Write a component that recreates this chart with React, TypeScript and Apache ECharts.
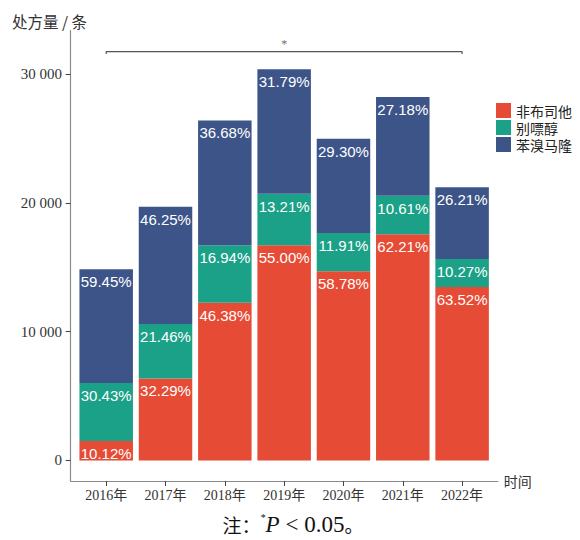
import React, { useEffect, useRef } from "react";
import * as echarts from "echarts";

// Prescription volume by year, split into three urate-lowering drugs
const years = ["2016年", "2017年", "2018年", "2019年", "2020年", "2021年", "2022年"];
const totals = [14830, 19700, 26390, 30360, 24970, 28220, 21200];
const febuxostatShare = [10.12, 32.29, 46.38, 55.0, 58.78, 62.21, 63.52];
const allopurinolShare = [30.43, 21.46, 16.94, 13.21, 11.91, 10.61, 10.27];
const benzbromaroneShare = [59.45, 46.25, 36.68, 31.79, 29.3, 27.18, 26.21];
const drugNames = ["非布司他", "别嘌醇", "苯溴马隆"];
const drugColors = ["#E64B35", "#1BA187", "#3C5488"];
const yTicks = [0, 10000, 20000, 30000];
// significance bracket spanning 2016–2022
const bracketLevel = 31730;
const bracketDrop = 170;

const SERIF = "'Liberation Serif', 'Noto Sans CJK SC', serif";
const CJK = "'Noto Sans CJK SC', sans-serif";

const Y_MIN = -1600;
const Y_MAX = 33360;
// discrete-axis padding of 0.6 category units on each side
const PAD = 0.6;
const PLOT_LEFT = 70.6;
const PLOT_WIDTH = 427.1;
const PLOT_TOP = 30.7;
const PLOT_HEIGHT = 450.3;

const fmtThousands = (v: number) =>
  v === 0 ? "0" : String(v).replace(/\B(?=(\d{3})+(?!\d))/g, " ");

export default function App() {
  const ref = useRef<HTMLDivElement>(null);

  useEffect(() => {
    if (!ref.current) return;
    const chart = echarts.init(ref.current, null, { renderer: "svg" });
    const shares = [febuxostatShare, allopurinolShare, benzbromaroneShare];
    const xIdx = years.map((_, i) => i);
    const unit = PLOT_WIDTH / (years.length - 1 + 2 * PAD);
    const bandLeft = PLOT_LEFT + (PAD - 0.5) * unit;
    const bandWidth = unit * years.length;

    const barSeries = shares.map((share, s) => ({
      name: drugNames[s],
      type: "bar",
      stack: "total",
      xAxisIndex: 0,
      yAxisIndex: 0,
      barWidth: 53.5,
      itemStyle: { color: drugColors[s] },
      label: {
        show: true,
        position: "insideTop",
        distance: 5,
        color: "#ffffff",
        fontSize: 15,
        fontFamily: "'Liberation Sans', Arial, sans-serif",
        formatter: (p: any) => `${share[p.dataIndex].toFixed(2)}%`,
      },
      data: share.map((pct, i) => (totals[i] * pct) / 100),
    }));

    chart.setOption({
      animation: false,
      backgroundColor: "#ffffff",
      grid: [
        // bars: one band per year
        { left: bandLeft, top: PLOT_TOP, width: bandWidth, height: PLOT_HEIGHT, outerBoundsMode: "none" },
        // visible axes and annotation, padded on both sides
        { left: PLOT_LEFT, top: PLOT_TOP, width: PLOT_WIDTH, height: PLOT_HEIGHT, outerBoundsMode: "none" },
      ],
      legend: {
        orient: "vertical",
        left: 496,
        top: 103,
        padding: 0,
        itemWidth: 15,
        itemHeight: 15,
        itemGap: 2,
        icon: "rect",
        selectedMode: false,
        data: drugNames,
        textStyle: { fontSize: 14, fontFamily: CJK, color: "#222", lineHeight: 15 },
      },
      xAxis: [
        {
          type: "category",
          gridIndex: 0,
          data: years,
          boundaryGap: true,
          show: false,
        },
        {
          type: "value",
          gridIndex: 1,
          min: -PAD,
          max: years.length - 1 + PAD,
          name: "时间",
          nameLocation: "end",
          nameGap: 6,
          nameTextStyle: { fontSize: 14, fontFamily: CJK, color: "#333", verticalAlign: "middle" },
          axisLine: { show: true, onZero: false, lineStyle: { color: "#8a8a8a", width: 1.2 } },
          axisTick: { show: true, customValues: xIdx, length: 5, lineStyle: { color: "#444" } },
          axisLabel: {
            customValues: xIdx,
            formatter: (v: number) => years[Math.round(v)],
            margin: 7,
            fontSize: 14,
            fontFamily: SERIF,
            color: "#333",
          },
          splitLine: { show: false },
        },
      ],
      yAxis: [
        {
          type: "value",
          gridIndex: 0,
          min: Y_MIN,
          max: Y_MAX,
          show: false,
          splitLine: { show: false },
        },
        {
          type: "value",
          gridIndex: 1,
          min: Y_MIN,
          max: Y_MAX,
          axisLine: { show: true, onZero: false, lineStyle: { color: "#8a8a8a", width: 1.2 } },
          axisTick: { show: true, customValues: yTicks, length: 5, lineStyle: { color: "#444" } },
          axisLabel: {
            customValues: yTicks,
            formatter: (v: number) => fmtThousands(v),
            margin: 8.6,
            fontSize: 15,
            fontFamily: SERIF,
            color: "#333",
          },
          splitLine: { show: false },
        },
      ],
      series: [
        ...barSeries,
        {
          name: "bracket",
          type: "line",
          xAxisIndex: 1,
          yAxisIndex: 1,
          symbol: "none",
          silent: true,
          lineStyle: { color: "#555", width: 1.2 },
          data: [
            [0, bracketLevel - bracketDrop],
            [0, bracketLevel],
            [years.length - 1, bracketLevel],
            [years.length - 1, bracketLevel - bracketDrop],
          ],
        },
        {
          name: "sig",
          type: "scatter",
          xAxisIndex: 1,
          yAxisIndex: 1,
          symbolSize: 1,
          silent: true,
          itemStyle: { color: "transparent" },
          label: {
            show: true,
            position: "top",
            distance: 1,
            formatter: "*",
            fontSize: 12,
            fontFamily: SERIF,
            color: "#444",
          },
          data: [[(years.length - 1) / 2, bracketLevel]],
        },
      ],
      graphic: [
        {
          type: "text",
          left: 12,
          top: 13,
          style: {
            text: "处方量 / 条",
            fontSize: 15.5,
            fontFamily: CJK,
            fill: "#333",
          },
        },
        {
          type: "text",
          x: 293,
          y: 524,
          style: {
            text: "{c|注：}{s|*}{i|P}{n| < 0.05}{c|。}",
            align: "center",
            verticalAlign: "middle",
            rich: {
              c: { fontSize: 19, fontFamily: CJK, fill: "#111" },
              s: { fontSize: 10, fontFamily: SERIF, fill: "#111", verticalAlign: "top", padding: [0, 0, 10, 0] },
              i: { fontSize: 23, fontFamily: SERIF, fontStyle: "italic", fill: "#111" },
              n: { fontSize: 23, fontFamily: SERIF, fill: "#111" },
            },
          },
        },
      ],
    });

    return () => chart.dispose();
  }, []);

  return (
    <div
      ref={ref}
      style={{ position: "fixed", left: 0, top: 0, width: 580, height: 540 }}
    />
  );
}
